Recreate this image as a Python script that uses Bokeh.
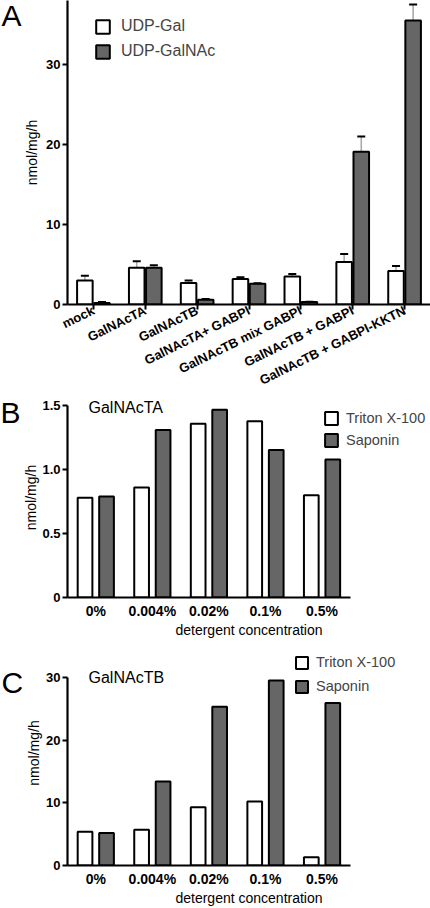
import numpy as np
from bokeh.plotting import figure
from bokeh.models import (ColumnDataSource, Label, Legend, LegendItem, FixedTicker, Range1d)
from bokeh.transform import dodge
from bokeh.layouts import column
from bokeh.embed import file_html
from bokeh.resources import INLINE

# ---------------- data ----------------
a_categories = ["mock", "GalNAcTA", "GalNAcTB", "GalNAcTA+ GABPI",
                "GalNAcTB mix GABPI", "GalNAcTB + GABPI", "GalNAcTB + GABPI-KKTN"]
a_udp_gal = [3.0, 4.6, 2.7, 3.2, 3.5, 5.3, 4.2]
a_udp_gal_err = [0.6, 0.8, 0.3, 0.2, 0.3, 1.0, 0.6]
a_udp_galnac = [0.2, 4.6, 0.6, 2.6, 0.3, 19.1, 35.5]
a_udp_galnac_err = [0.1, 0.3, 0.1, 0.05, 0.05, 1.9, 2.0]
a_yticks = [0, 10, 20, 30]

conc_labels = ["0%", "0.004%", "0.02%", "0.1%", "0.5%"]
b_triton = [0.78, 0.86, 1.36, 1.38, 0.80]
b_saponin = [0.79, 1.31, 1.47, 1.155, 1.08]
b_yticks = [0, 0.5, 1.0, 1.5]
b_ytick_labels = ["0", "0.5", "1.0", "1.5"]

c_triton = [5.4, 5.7, 9.3, 10.2, 1.3]
c_saponin = [5.2, 13.4, 25.3, 29.5, 25.9]
c_yticks = [0, 10, 20, 30]

FONT = "Liberation Sans"
DARK = "#666666"
W = 430
LEFT = 61


def base_axes(p, yticks, ylabels=None, label_standoff=0):
    for ax in (p.xaxis[0], p.yaxis[0]):
        ax.axis_line_width = 2.2
        ax.axis_line_color = "black"
        ax.major_tick_line_width = 2
        ax.major_tick_line_color = "black"
        ax.minor_tick_line_color = None
        ax.major_label_text_font = FONT
        ax.major_label_text_font_style = "bold"
        ax.major_label_text_color = "black"
        ax.axis_label_text_font = FONT
        ax.axis_label_text_font_style = "normal"
        ax.axis_label_text_color = "black"
    y = p.yaxis[0]
    y.ticker = FixedTicker(ticks=yticks)
    if ylabels is not None:
        y.major_label_overrides = {t: l for t, l in zip(yticks, ylabels)}
    y.major_tick_in = 0
    y.major_tick_out = 5
    y.major_label_standoff = 2
    y.major_label_text_font_size = "13px"
    y.axis_label = "nmol/mg/h"
    y.axis_label_text_font_size = "14px"
    y.axis_label_standoff = label_standoff
    p.grid.visible = False
    p.outline_line_color = None
    p.background_fill_color = "white"
    p.border_fill_color = "white"


def letter(p, txt, y):
    p.add_layout(Label(x=0, y=y, x_units="screen", y_units="screen", text=txt,
                       text_font=FONT, text_font_size="30px", text_baseline="middle",
                       text_color="black"), "left")


# ---------------- Panel A ----------------
srcA = ColumnDataSource(dict(
    x=list(range(len(a_categories))),
    gal=a_udp_gal,
    gal_hi=[v + e for v, e in zip(a_udp_gal, a_udp_gal_err)],
    galnac=a_udp_galnac,
    galnac_hi=[v + e for v, e in zip(a_udp_galnac, a_udp_galnac_err)],
))

pA = figure(width=W, height=397, x_range=Range1d(-0.5, 6.5), y_range=Range1d(0, 38.0),
            output_backend="svg", toolbar_location=None,
            min_border_left=LEFT, min_border_right=0, min_border_top=0, min_border_bottom=93)
base_axes(pA, a_yticks, label_standoff=3)
xa = pA.xaxis[0]
xa.ticker = FixedTicker(ticks=list(range(len(a_categories))))
xa.major_label_overrides = {i: c for i, c in enumerate(a_categories)}
xa.major_label_orientation = 0.46
xa.major_label_text_font_size = "13px"
xa.major_tick_in = 0
xa.major_tick_out = 5
xa.major_label_standoff = 0

off = 0.165
for col, hi in (("gal", "gal_hi"), ("galnac", "galnac_hi")):
    dx = -off if col == "gal" else off
    pA.segment(x0=dodge("x", dx), y0=col, x1=dodge("x", dx), y1=hi, source=srcA,
               line_color="#aaaaaa", line_width=1.6)
rGal = pA.vbar(x=dodge("x", -off), top="gal", width=0.3, source=srcA,
               fill_color="white", line_color="black", line_width=2)
rGalNAc = pA.vbar(x=dodge("x", off), top="galnac", width=0.3, source=srcA,
                  fill_color=DARK, line_color="black", line_width=2)
for hi, dx in (("gal_hi", -off), ("galnac_hi", off)):
    pA.scatter(x=dodge("x", dx), y=hi, source=srcA, marker="dash", size=8,
               line_color="black", line_width=2)

legA = Legend(items=[LegendItem(label="UDP-Gal", renderers=[rGal]),
                     LegendItem(label="UDP-GalNAc", renderers=[rGalNAc])],
              location=(27, 244), glyph_width=17, glyph_height=17, label_height=17,
              spacing=7, padding=0, margin=0, label_standoff=10,
              border_line_color=None, background_fill_alpha=0,
              label_text_font=FONT, label_text_font_size="16px")
pA.add_layout(legA)
letter(pA, "A", 289)


# ---------------- Panels B & C ----------------
def conc_panel(height, bottom_border, y_end, yticks, ylabels,
               triton, saponin, title, title_y, leg_loc, glyph, spacing, std):
    n = len(conc_labels)
    unit = 57.5
    src = ColumnDataSource(dict(x=list(range(n)), tri=triton, sap=saponin))
    p = figure(width=W, height=height,
               x_range=Range1d(-0.5, -0.5 + (W - LEFT) / unit), y_range=Range1d(0, y_end),
               output_backend="svg", toolbar_location=None,
               min_border_left=LEFT, min_border_right=0,
               min_border_top=0, min_border_bottom=bottom_border)
    base_axes(p, yticks, ylabels, label_standoff=std)
    p.yaxis[0].bounds = (0, yticks[-1])
    x = p.xaxis[0]
    x.bounds = (-0.5, n - 0.5)
    x.ticker = FixedTicker(ticks=list(range(n)))
    x.major_label_overrides = {i: c for i, c in enumerate(conc_labels)}
    x.major_tick_line_color = None
    x.major_tick_in = 0
    x.major_tick_out = 0
    x.major_label_standoff = 5
    x.major_label_text_font_size = "14px"
    x.axis_label = "detergent concentration"
    x.axis_label_text_font_size = "14px"
    x.axis_label_standoff = 0
    rT = p.vbar(x=dodge("x", -0.19), top="tri", width=0.26, source=src,
                fill_color="white", line_color="black", line_width=2)
    rS = p.vbar(x=dodge("x", 0.19), top="sap", width=0.26, source=src,
                fill_color=DARK, line_color="black", line_width=2)
    leg = Legend(items=[LegendItem(label="Triton X-100", renderers=[rT]),
                        LegendItem(label="Saponin", renderers=[rS])],
                 location=leg_loc, glyph_width=glyph, glyph_height=glyph, label_height=glyph,
                 spacing=spacing, padding=0, margin=0, label_standoff=7,
                 border_line_color=None, background_fill_alpha=0,
                 label_text_font=FONT, label_text_font_size="14.5px")
    p.add_layout(leg)
    p.add_layout(Label(x=21, y=title_y, x_units="screen", y_units="screen", text=title,
                       text_font=FONT, text_font_size="16px", text_baseline="middle",
                       text_color="black"))
    return p


# B: canvas 397..640, frame 397..597 ; C: canvas 640..908, frame 640..866
pB = conc_panel(243, 43, 1.565, b_yticks, b_ytick_labels, b_triton, b_saponin,
                "GalNAcTA", 190, (256, 149), 16, 6, 0)
letter(pB, "B", 185)
pC = conc_panel(268, 42, 35.87, c_yticks, None, c_triton, c_saponin,
                "GalNAcTB", 188, (227, 171), 15, 8, 1)
letter(pC, "C", 183)

layout = column(pA, pB, pC, spacing=0)
open("out.html", "w").write(file_html(layout, INLINE))
